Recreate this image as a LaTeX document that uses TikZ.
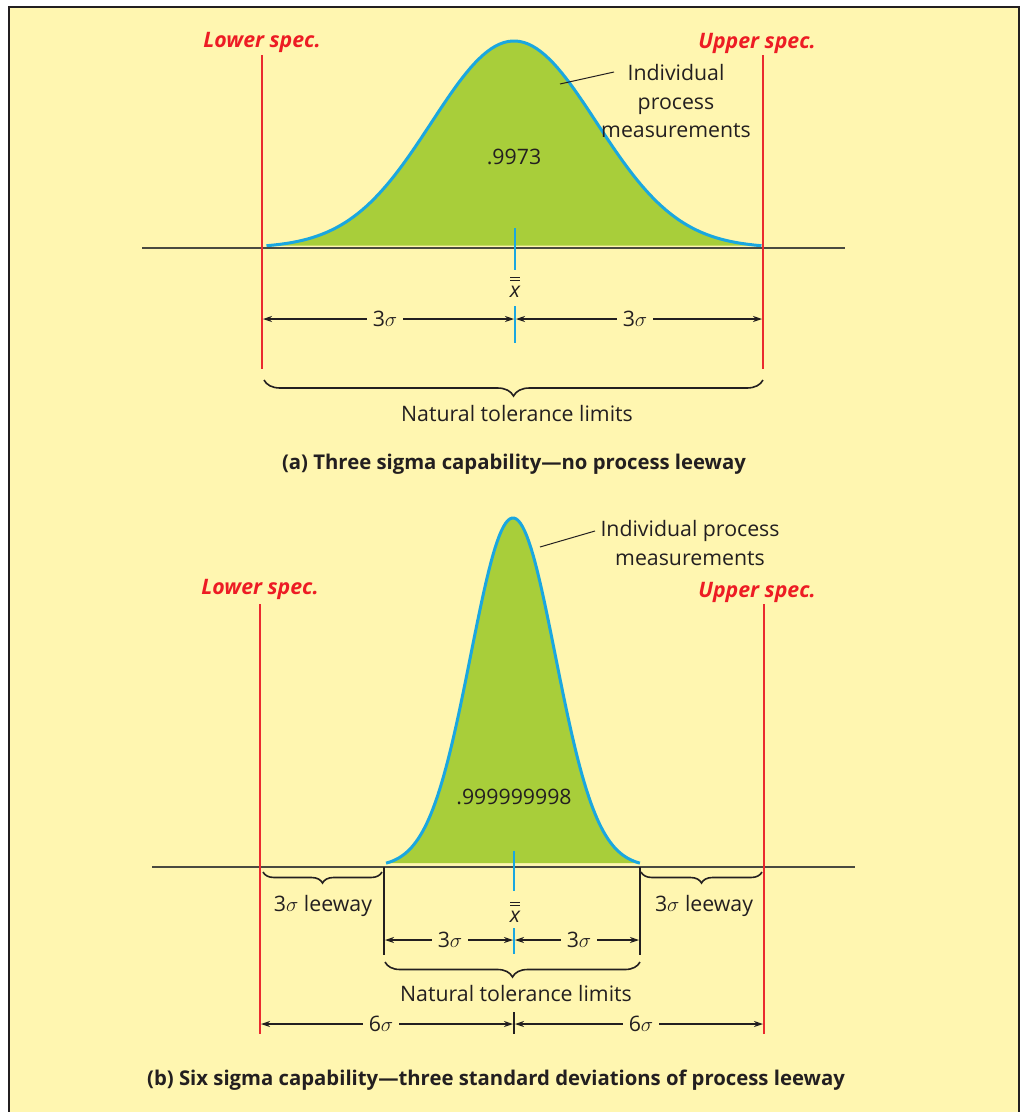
\documentclass[tikz,border=0pt]{standalone}
\usepackage{fontspec}
\setmainfont{Open Sans}
\usetikzlibrary{arrows.meta,decorations.pathreplacing}
\definecolor{bgy}{HTML}{FFF6B0}
\definecolor{grn}{HTML}{A8CE3A}
\definecolor{cyn}{HTML}{1AA7E0}
\definecolor{redl}{HTML}{EA2A2F}
\definecolor{redt}{HTML}{ED1C24}
\definecolor{ink}{HTML}{231F20}
\definecolor{axg}{HTML}{4A4A40}
\begin{document}
\begin{tikzpicture}[x=1pt,y=-1pt,
  font=\fontsize{21.3}{24}\selectfont, text=ink,
  lbl/.style={inner sep=0pt, anchor=base},
  spec/.style={lbl, text=redt, font=\fontsize{21.3}{24}\selectfont\bfseries\itshape},
  capt/.style={lbl, font=\fontsize{20.3}{24}\selectfont\bfseries},
  redline/.style={draw=redl, line width=2pt},
  axis/.style={draw=axg, line width=1.6pt},
  ctr/.style={draw=cyn, line width=2pt},
  dim/.style={draw=ink, line width=1.1pt, -{Stealth[length=9pt,width=6pt]}},
  brc/.style={draw=ink, line width=1.6pt, decorate, decoration={brace, mirror, amplitude=#1}},
  lead/.style={draw=ink, line width=1pt},
  bars/.style={draw=ink, line width=1pt},
  gap/.style={lbl, inner xsep=6pt}
]
\useasboundingbox (0,0) rectangle (1021,1112);
\fill[white] (0,0) rectangle (1021,1112);
\fill[bgy] (9,7) rectangle (1019,1112);
\draw[ink, line width=1.6pt] (9,1112) -- (9,7) -- (1019,7) -- (1019,1112);

%% ================= panel (a) =================
\fill[grn] plot[domain=-3:3, samples=120] ({514+82.5*\x},{248-207*exp(-\x*\x/2)}) -- cycle;
\draw[cyn, line width=3pt] plot[domain=-3:3, samples=120] ({514+82.5*\x},{248-207*exp(-\x*\x/2)});
\draw[axis] (142,248) coordinate (aAx1) -- (845,248) coordinate (aAx2);
\draw[redline] (262,55) coordinate (aLt) -- (262,369) coordinate (aLb);
\draw[redline] (763,55) coordinate (aRt) -- (763,369) coordinate (aRb);
\node[spec] (aLs) at (262,47) {Lower spec.};
\node[spec] (aUs) at (757,48) {Upper spec.};
\node[lbl] (aP) at (514,164) {.9973};
\node[lbl] (aI1) at (676,80) {Individual};
\node[lbl] (aI2) at (676,109) {process};
\node[lbl] (aI3) at (676,137) {measurements};
\coordinate (aLeadA) at (560,84);
\coordinate (aLeadB) at (614,72);
\draw[lead] (aLeadA) -- (aLeadB);
% center line and xbar
\draw[ctr] (515,228) coordinate (aC1) -- (515,270) coordinate (aC2);
\node[lbl, font=\fontsize{21.3}{24}\selectfont\itshape] (aX) at (515,297) {x};
\draw[bars] ([xshift=-5pt,yshift=8pt]aX.north) -- ([xshift=5pt,yshift=8pt]aX.north);
\draw[bars] ([xshift=-5pt,yshift=5pt]aX.north) -- ([xshift=5pt,yshift=5pt]aX.north);
\draw[ctr] (515,306) coordinate (aC3) -- (515,343) coordinate (aC4);
% 3 sigma arrows
\coordinate (aDL) at (263,319);
\coordinate (aDC) at (515,319);
\coordinate (aDR) at (762,319);
\node[gap] (aS1) at (385,326) {3$\sigma$};
\node[gap] (aS2) at (635,326) {3$\sigma$};
\draw[dim] (aS1.west |- aDL) -- (aDL);
\draw[dim] (aS1.east |- aDL) -- ([xshift=-1pt]aDC);
\draw[dim] (aS2.west |- aDR) -- ([xshift=1pt]aDC);
\draw[dim] (aS2.east |- aDR) -- (aDR);
% brace
\draw[brc=16pt] (264,380) coordinate (aB1) -- (763,380) coordinate (aB2);
\node[lbl] (aNT) at (517,421) {Natural tolerance limits};
\node[capt] (aCap) at (514,469) {(a) Three sigma capability---no process leeway};

%% ================= panel (b) =================
\fill[grn] plot[domain=-3:3, samples=120] ({513+42.3*\x},{867-349*exp(-\x*\x/2)}) -- cycle;
\draw[cyn, line width=3pt] plot[domain=-3:3, samples=120] ({513+42.3*\x},{867-349*exp(-\x*\x/2)});
\draw[axis] (152,867) coordinate (bAx1) -- (855,867) coordinate (bAx2);
\draw[redline] (260,604) coordinate (bLt) -- (260,1034) coordinate (bLb);
\draw[redline] (764,604) coordinate (bRt) -- (764,1034) coordinate (bRb);
\node[spec] (bLs) at (260,594) {Lower spec.};
\node[spec] (bUs) at (757,597) {Upper spec.};
\node[lbl] (bP) at (514,804) {.999999998};
\node[lbl] (bI1) at (690,536) {Individual process};
\node[lbl] (bI2) at (690,565) {measurements};
\coordinate (bLeadA) at (540,547);
\coordinate (bLeadB) at (595,531);
\draw[lead] (bLeadA) -- (bLeadB);
% black limit lines
\draw[draw=ink, line width=1.4pt] (384,867) coordinate (bT1) -- (384,955) coordinate (bT2);
\draw[draw=ink, line width=1.4pt] (640,867) coordinate (bT3) -- (640,955) coordinate (bT4);
% center line and xbar
\draw[ctr] (514,851) coordinate (bC1) -- (514,891) coordinate (bC2);
\node[lbl, font=\fontsize{21.3}{24}\selectfont\itshape] (bX) at (515,922) {x};
\draw[bars] ([xshift=-5pt,yshift=8pt]bX.north) -- ([xshift=5pt,yshift=8pt]bX.north);
\draw[bars] ([xshift=-5pt,yshift=5pt]bX.north) -- ([xshift=5pt,yshift=5pt]bX.north);
\draw[ctr] (514,928) coordinate (bC3) -- (514,954) coordinate (bC4);
% leeway braces
\draw[brc=11pt] (263,872) coordinate (bL1) -- (382,872) coordinate (bL2);
\draw[brc=11pt] (641,872) coordinate (bL3) -- (762,872) coordinate (bL4);
\node[lbl] (bLw1) at (323,911) {3$\sigma$ leeway};
\node[lbl] (bLw2) at (704,911) {3$\sigma$ leeway};
% 3 sigma arrows
\coordinate (bDL) at (385,940);
\coordinate (bDC) at (514,940);
\coordinate (bDR) at (639,940);
\node[gap] (bS1) at (450,947) {3$\sigma$};
\node[gap] (bS2) at (579,947) {3$\sigma$};
\draw[dim] (bS1.west |- bDL) -- (bDL);
\draw[dim] (bS1.east |- bDL) -- ([xshift=-1pt]bDC);
\draw[dim] (bS2.west |- bDR) -- ([xshift=1pt]bDC);
\draw[dim] (bS2.east |- bDR) -- (bDR);
% natural tolerance brace
\draw[brc=15pt] (385,962) coordinate (bB1) -- (640,962) coordinate (bB2);
\node[lbl] (bNT) at (516,1001) {Natural tolerance limits};
% 6 sigma arrows
\draw[draw=ink, line width=1.2pt] (514,1012) coordinate (bK1) -- (514,1034) coordinate (bK2);
\coordinate (bEL) at (261,1024);
\coordinate (bEC) at (514,1024);
\coordinate (bER) at (763,1024);
\node[gap] (bE1) at (381,1031) {6$\sigma$};
\node[gap] (bE2) at (641,1031) {6$\sigma$};
\draw[dim] (bE1.west |- bEL) -- (bEL);
\draw[dim] (bE1.east |- bEL) -- ([xshift=-1pt]bEC);
\draw[dim] (bE2.west |- bER) -- ([xshift=1pt]bEC);
\draw[dim] (bE2.east |- bER) -- (bER);
\node[capt] (bCap) at (496,1085) {(b) Six sigma capability---three standard deviations of process leeway};
\end{tikzpicture}
\end{document}
